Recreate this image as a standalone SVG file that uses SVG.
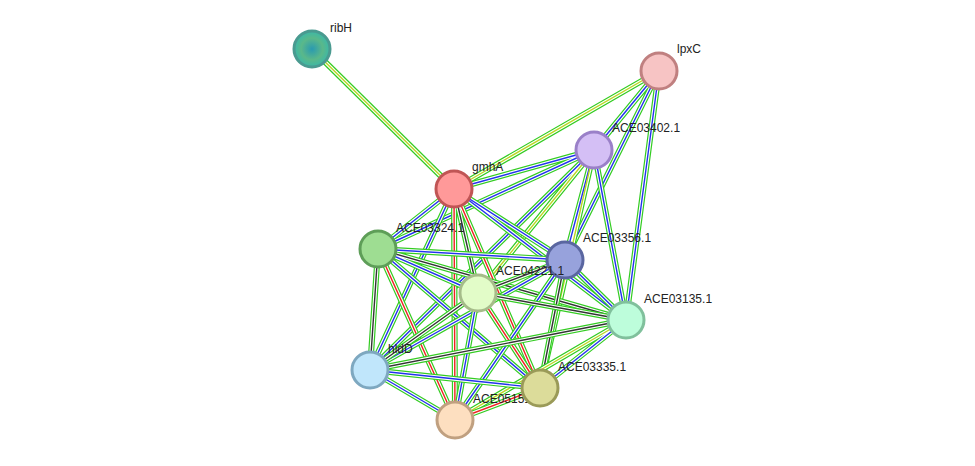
<svg xmlns="http://www.w3.org/2000/svg" width="975" height="466" viewBox="0 0 975 466">
<style>
.o{stroke:#33cc22;stroke-width:6;fill:none}
.m{stroke:#fff;stroke-width:3.6;fill:none}
.k{stroke:#333;stroke-width:1.4;fill:none}
.b{stroke:#2233ee;stroke-width:1.4;fill:none}
.y{stroke:#bbd622;stroke-width:1.4;fill:none}
.r{stroke:#ee2222;stroke-width:1.4;fill:none}
circle{stroke-width:3}
text{font-family:"Liberation Sans",Arial,sans-serif;font-size:12px;fill:#222}
</style>
<defs>
<radialGradient id="rg"><stop offset="0" stop-color="#2a9ab0"/><stop offset="0.6" stop-color="#5ab88a"/><stop offset="1" stop-color="#3bb8a8"/></radialGradient>
</defs>
<g id="edges">
<g><path class="o" d="M312 49L454 189"/><path class="m" d="M312 49L454 189"/><path class="y" d="M312 49L454 189"/></g>
<g><path class="o" d="M659 71L454 189M659 71L594 150M659 71L565 260M659 71L626 320"/><path class="m" d="M659 71L454 189M659 71L594 150M659 71L565 260M659 71L626 320"/><path class="b" d="M659 71L594 150M659 71L565 260M659 71L626 320"/><path class="y" d="M659 71L454 189"/></g>
<g><path class="o" d="M594 150L454 189M594 150L378 249M594 150L565 260M594 150L478 293M594 150L626 320M594 150L540 388M594 150L370 370"/><path class="m" d="M594 150L454 189M594 150L378 249M594 150L565 260M594 150L478 293M594 150L626 320M594 150L540 388M594 150L370 370"/><path class="b" d="M594 150L454 189M594 150L378 249M594 150L565 260M594 150L626 320M594 150L370 370"/><path class="y" d="M594 150L478 293M594 150L540 388"/></g>
<g><path class="o" d="M454 189L378 249M454 189L565 260M454 189L478 293M454 189L626 320M454 189L370 370M454 189L540 388M454 189L455 420"/><path class="m" d="M454 189L378 249M454 189L565 260M454 189L478 293M454 189L626 320M454 189L370 370M454 189L540 388M454 189L455 420"/><path class="b" d="M454 189L378 249M454 189L565 260M454 189L626 320M454 189L370 370"/><path class="r" d="M454 189L455 420M454 189L540 388"/><path class="k" d="M454 189L478 293"/></g>
<g><path class="o" d="M378 249L565 260M378 249L478 293M378 249L370 370M378 249L540 388M378 249L455 420M378 249L626 320"/><path class="m" d="M378 249L565 260M378 249L478 293M378 249L370 370M378 249L540 388M378 249L455 420M378 249L626 320"/><path class="b" d="M378 249L565 260M378 249L478 293M378 249L540 388"/><path class="k" d="M378 249L370 370M378 249L626 320"/><path class="r" d="M378 249L455 420"/></g>
<g><path class="o" d="M565 260L478 293M565 260L626 320M565 260L540 388M565 260L370 370M565 260L455 420"/><path class="m" d="M565 260L478 293M565 260L626 320M565 260L540 388M565 260L370 370M565 260L455 420"/><path class="k" d="M565 260L478 293M565 260L540 388"/><path class="b" d="M565 260L626 320M565 260L370 370M565 260L455 420"/></g>
<g><path class="o" d="M478 293L626 320M478 293L370 370M478 293L540 388M478 293L455 420"/><path class="m" d="M478 293L626 320M478 293L370 370M478 293L540 388M478 293L455 420"/><path class="k" d="M478 293L626 320M478 293L370 370"/><path class="r" d="M478 293L540 388"/><path class="b" d="M478 293L455 420"/></g>
<g><path class="o" d="M626 320L370 370M626 320L540 388M626 320L455 420"/><path class="m" d="M626 320L370 370M626 320L540 388M626 320L455 420"/><path class="k" d="M626 320L370 370"/><path class="b" d="M626 320L540 388"/><path class="y" d="M626 320L455 420"/></g>
<g><path class="o" d="M370 370L540 388M370 370L455 420M455 420L540 388"/><path class="m" d="M370 370L540 388M370 370L455 420M455 420L540 388"/><path class="b" d="M370 370L540 388M370 370L455 420"/><path class="r" d="M455 420L540 388"/></g>
</g>
<g id="ribH"><circle cx="312" cy="49" r="18" fill="url(#rg)" stroke="#4a9a90"/><text x="330" y="32">ribH</text></g>
<g id="lpxC"><circle cx="659" cy="71" r="18" fill="#f7c4c4" stroke="#c08080"/><text x="677" y="53">lpxC</text></g>
<g id="ACE03402.1"><circle cx="594" cy="150" r="18" fill="#d4bff5" stroke="#9a80c8"/><text x="612" y="132">ACE03402.1</text></g>
<g id="gmhA"><circle cx="454" cy="189" r="18" fill="#ff9999" stroke="#c05555"/><text x="472" y="171">gmhA</text></g>
<g id="ACE03324.1"><text x="396" y="232">ACE03324.1</text><circle cx="378" cy="249" r="18" fill="#9edd92" stroke="#5e9e58"/></g>
<g id="ACE03356.1"><circle cx="565" cy="260" r="18" fill="#97a2dc" stroke="#5a66a0"/><text x="583" y="242">ACE03356.1</text></g>
<g id="ACE03135.1"><circle cx="626" cy="320" r="18" fill="#bdfddb" stroke="#80c09c"/><text x="644" y="303">ACE03135.1</text></g>
<g id="ACE04221"><text x="496" y="275">ACE04221.1</text></g>
<g id="hldD"><circle cx="370" cy="370" r="18" fill="#c0e6fb" stroke="#7ea8c0"/><text x="388" y="353">hldD</text></g>
<g id="ACE05151"><text x="473" y="403">ACE05151.1</text></g>
<g id="ACE03335.1"><circle cx="540" cy="388" r="18" fill="#dcdc9a" stroke="#9a9a58"/><text x="558" y="371">ACE03335.1</text></g>
<g id="ACE04221n"><circle cx="478" cy="293" r="18" fill="#e2fcc8" stroke="#a6bc8a"/></g>
<g id="ACE05151n"><circle cx="455" cy="420" r="18" fill="#fddfc0" stroke="#c0a080"/></g>
</svg>
